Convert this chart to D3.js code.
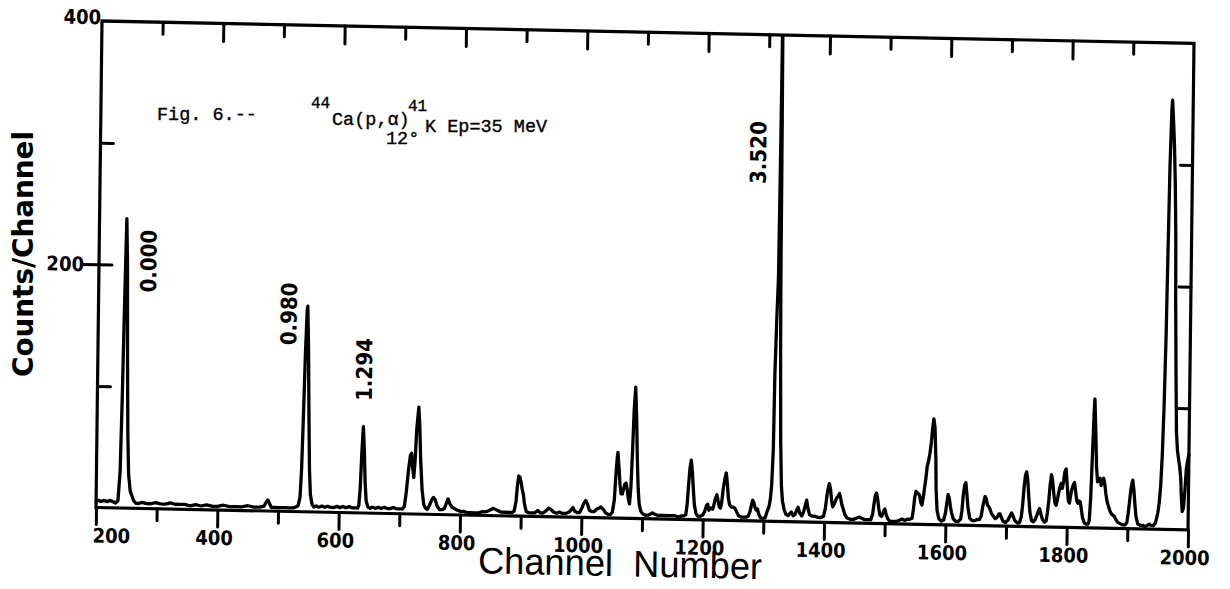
<!DOCTYPE html>
<html>
<head>
<meta charset="utf-8">
<script src="https://cdn.jsdelivr.net/npm/d3@7"></script>
<style>
  html, body { margin: 0; padding: 0; background: #fff; }
  svg { display: block; }
</style>
</head>
<body>
<svg id="chart" width="1230" height="589"></svg>
<script>
// 44Ca(p,alpha)41K spectrum, Ep = 35 MeV, 12 deg: counts per channel along the trace
const channel = [
  200,204,208,213,218,223,228,232,236,239,241,243,245,247,249,251,253,256,259,262,266,270,
  276,283,290,298,306,314,322,330,338,346,355,364,373,382,391,400,410,420,430,440,450,460,470,477,480,483,486,489,495,502,510,518,525,530,
  533,536,538,540,542,544,545,547,549,551,553,556,559,
  563,567,572,577,582,587,592,597,602,607,612,617,622,627,631,
  633,635,637,639,641,643,645,648,652,656,660,665,670,675,680,685,690,695,700,705,
  708,711,714,717,719,721,723,725,727,730,732,734,737,740,743,
  746,750,753,756,759,762,766,770,774,777,780,783,787,791,795,800,806,812,818,824,830,836,842,847,851,855,859,863,868,874,880,886,
  889,892,894,896,898,900,902,904,906,909,913,918,923,928,932,937,942,946,950,954,959,964,969,974,979,983,986,989,993,997,1001,1004,1007,1010,1013,1017,1021,1025,1029,1032,1036,1040,1044,1048,
  1051,1054,1056,1058,1059,1061,1063,1065,1067,1069,1071,1073,1075,1077,1079,1081,1083,1085,1087,1089,1091,1093,1095,1098,1101,
  1105,1110,1114,1117,1120,1125,1130,1136,1142,1148,1154,1160,1165,1169,1172,1174,1176,1178,1180,1182,1184,1186,1189,1192,
  1196,1200,1203,1206,1208,1210,1213,1216,1218,1220,1223,1225,1227,1229,1231,1233,1236,1238,1240,1242,1244,1247,1250,1253,1256,1259,1263,1268,1272,1275,1278,1280,1282,1284,1286,1288,1290,1292,1295,1299,1303,1306,1309,
  1311,1313,1315,1316,1318,1320,1321,1322,1323,1324,1325,1327,1329,1331,1334,1337,
  1341,1344,1346,1349,1352,1355,1357,1360,1363,1366,1369,1371,1373,1376,1380,1385,1390,1395,
  1399,1402,1405,1408,1410,1412,1414,1417,1420,1423,1425,1427,1429,1431,1434,1438,1443,1448,1453,1458,1462,1467,1472,
  1477,1480,1482,1484,1486,1488,1490,1492,1495,1497,1500,1502,1505,1509,1514,1519,1524,1529,1533,1537,1541,
  1545,1547,1549,1551,1553,1555,1557,1559,1561,1563,1565,1567,1569,1571,1573,1575,1577,1579,1581,1583,1584,1586,1589,1593,
  1597,1600,1602,1604,1606,1608,1610,1613,1617,1621,1625,1627,1629,1631,1633,1635,1637,1640,1644,1648,1652,1656,
  1659,1661,1663,1665,1667,1669,1671,1673,1676,1679,1682,1685,1688,1690,1692,1695,1699,1703,1706,1709,1711,1714,1718,
  1722,1725,1727,1729,1731,1733,1735,1737,1739,1742,1745,1748,1751,1753,1755,1757,1760,1763,
  1766,1768,1770,1772,1774,1776,1778,1780,1782,1784,1786,1788,1790,1792,1794,1796,1798,1800,1802,1804,1806,1808,1810,1812,1814,1816,1818,1820,1822,1824,1826,1829,1832,1835,
  1837,1839,1841,1843,1844,1846,1848,1850,1852,1854,1856,1858,1860,1862,1864,1866,1869,1872,1875,1878,1881,1884,1888,1892,1896,
  1899,1901,1903,1905,1907,1908,1910,1912,1914,1917,1921,1925,1929,1933,1936,1939,1943,1946,
  1948,1950,1952,1954,1956,1958,1960,1961,1963,1965,1966,1968,1970,1972,1974,1975,1977,1979,1981,1983,1985,1987,1988,1990,1992,1994,1996,1998,2000
];
const counts = [
  5,6,5,6,5,6,5,4,6,30,90,170,238,200,120,60,28,14,10,6,4,4,
  5,4,4,5,4,4,5,4,4,4,3,4,3,4,3,3,4,3,3,3,4,3,3,4,7,9,6,3,3,3,3,3,3,4,
  5,12,35,80,130,165,169,135,80,35,14,6,4,
  5,4,5,4,5,4,4,5,4,5,4,5,4,4,4,
  6,20,50,71,52,25,10,5,4,5,4,5,4,5,4,4,5,4,4,4,
  6,18,35,48,50,38,30,45,70,88,72,45,20,8,5,
  4,8,12,14,12,7,4,4,5,9,13,9,6,5,4,3,3,2,2,2,2,3,3,4,5,6,5,4,3,3,3,3,
  4,12,25,33,32,28,22,18,10,4,3,3,3,5,3,3,5,7,6,4,3,4,3,3,4,6,8,5,4,4,8,12,14,11,6,5,5,7,8,9,7,4,3,3,
  5,15,35,50,54,42,28,20,20,24,28,29,24,16,12,25,55,90,108,85,50,25,12,6,4,
  3,3,4,5,4,3,3,3,3,3,3,2,3,3,4,12,28,42,49,40,25,12,5,3,
  3,4,7,12,13,8,10,9,12,17,21,16,11,10,15,25,35,39,30,18,13,11,11,10,7,4,3,3,3,4,8,13,17,15,11,9,10,6,3,2,3,8,12,
  18,30,60,120,165,200,300,430,330,200,140,65,30,17,10,6,
  5,7,8,5,6,10,12,7,5,8,14,18,12,6,5,5,4,4,
  5,12,25,32,28,18,13,16,20,22,24,20,15,12,7,4,3,3,4,5,4,3,3,
  3,8,16,23,25,20,12,7,6,9,12,8,4,2,2,2,3,4,3,4,4,
  5,12,22,27,26,25,24,18,16,22,30,38,48,52,58,66,78,87,80,55,30,12,5,3,
  4,10,18,25,22,15,10,5,3,3,5,12,25,33,35,25,14,6,4,4,5,5,
  8,15,20,24,22,17,16,14,10,8,6,7,10,10,7,4,3,5,8,11,9,5,3,
  3,8,18,32,42,45,38,24,12,5,4,6,10,13,15,11,6,4,
  5,12,22,35,43,38,28,20,18,22,28,33,36,32,38,46,48,35,22,20,27,32,35,37,30,22,20,22,21,14,8,4,3,3,
  6,25,60,95,106,80,50,38,40,41,35,38,41,36,28,22,17,13,11,10,7,5,4,3,3,
  5,12,22,32,38,40,32,20,10,4,3,3,2,3,4,3,3,5,
  9,14,22,35,60,100,160,210,300,345,353,335,315,285,240,190,130,80,65,58,52,42,30,15,18,32,50,57,62
];

// axis ticks and labels
const xTicks = d3.range(200, 2001, 100);
const xTickLabels = [200, 400, 600, 800, 1000, 1200, 1400, 1600, 1800, 2000];
const topTicks = d3.range(300, 1901, 100);
const yTicks = [100, 200, 300];
const yTickLabels = [200, 400];

// level labels (MeV) over their peaks
const peakLabels = ["0.000", "0.980", "1.294", "3.520"];
const peakChannels = [246, 545, 639, 1322];

const titleParts = ["Fig. 6.--", "44", "Ca(p,\u03b1)", "41", "K Ep=35 MeV", "12\u00b0"];
const xTitle = "Channel  Number";
const yTitle = "Counts/Channel";

// ---------------------------------------------------------------
const W = 1092, H = 486.5;
const x = d3.scaleLinear().domain([200, 2000]).range([0, W]);
const y = d3.scaleLinear().domain([0, 400]).range([H, 0]);

const svg = d3.select("#chart");
svg.append("rect").attr("width", 1230).attr("height", 589).attr("fill", "#fff");

const ink = "#000";
const lettering = "'DejaVu Sans Condensed', 'DejaVu Sans', sans-serif";

// the plotted sheet sits slightly tilted on the page
const g = svg.append("g")
  .attr("transform", "matrix(1,0.0205,-0.0123,1,102,21)")
  .style("color", ink);

g.append("defs").append("clipPath").attr("id", "plotClip")
  .append("rect").attr("x", -3).attr("y", 0).attr("width", W + 6).attr("height", H + 6);

// spectrum trace
const idx = d3.range(channel.length);
g.append("path")
  .datum(idx)
  .attr("clip-path", "url(#plotClip)")
  .attr("fill", "none")
  .attr("stroke", ink)
  .attr("stroke-width", 3.3)
  .attr("stroke-linejoin", "round")
  .attr("stroke-linecap", "round")
  .attr("d", d3.line().x(i => x(channel[i])).y(i => y(counts[i])));

// frame
g.append("rect")
  .attr("x", 0).attr("y", 0).attr("width", W).attr("height", H)
  .attr("fill", "none").attr("stroke", ink).attr("stroke-width", 3.2);

function styleTicks(sel) {
  sel.select(".domain").remove();
  sel.selectAll("line").attr("stroke-width", 3).attr("stroke-linecap", "round");
}

// bottom ticks (outward), long on even hundreds
g.append("g").attr("transform", `translate(0,${H})`)
  .call(d3.axisBottom(x).tickValues(xTicks.filter(v => v % 200 === 0)).tickSize(17).tickFormat(""))
  .call(styleTicks);
g.append("g").attr("transform", `translate(0,${H})`)
  .call(d3.axisBottom(x).tickValues(xTicks.filter(v => v % 200 !== 0)).tickSize(12).tickFormat(""))
  .call(styleTicks);

// top ticks (inward)
g.append("g")
  .call(d3.axisTop(x).tickValues(topTicks.filter(v => v % 200 === 0)).tickSize(-18).tickFormat(""))
  .call(styleTicks);
g.append("g")
  .call(d3.axisTop(x).tickValues(topTicks.filter(v => v % 200 !== 0)).tickSize(-12).tickFormat(""))
  .call(styleTicks);

// left ticks: inward, plus an outward stub at 200
g.append("g")
  .call(d3.axisLeft(y).tickValues(yTicks).tickSize(-13).tickFormat(""))
  .call(styleTicks);
g.append("g")
  .call(d3.axisLeft(y).tickValues([200]).tickSize(15).tickFormat(""))
  .call(styleTicks);

// right ticks (inward)
g.append("g").attr("transform", `translate(${W},0)`)
  .call(d3.axisRight(y).tickValues(yTicks).tickSize(-12).tickFormat(""))
  .call(styleTicks);

// x tick labels
g.append("g").selectAll("text")
  .data(xTickLabels)
  .join("text")
  .attr("x", d => x(d) - 3)
  .attr("y", H + 35)
  .attr("text-anchor", d => d === 200 ? "start" : "middle")
  .attr("font-family", lettering)
  .attr("font-stretch", "condensed")
  .attr("font-weight", "bold")
  .attr("font-size", 20)
  .attr("fill", ink)
  .text(d => d);

// y tick labels
g.append("g").selectAll("text")
  .data(yTickLabels)
  .join("text")
  .attr("x", d => d === 400 ? -1 : -15)
  .attr("y", d => d === 400 ? y(d) - 4 : y(d))
  .attr("dy", "0.36em")
  .attr("text-anchor", "end")
  .attr("font-family", lettering)
  .attr("font-stretch", "condensed")
  .attr("font-weight", "bold")
  .attr("font-size", 20)
  .attr("fill", ink)
  .text(d => d);

// peak level labels, reading upward
const labelOffsets = [[21.5, 239], [-19, 289], [0, 343], [-23, 118]];
g.append("g").selectAll("text")
  .data(peakLabels)
  .join("text")
  .attr("transform", (d, i) => `translate(${x(peakChannels[i]) + labelOffsets[i][0]},${labelOffsets[i][1]}) rotate(-90)`)
  .attr("text-anchor", "middle")
  .attr("dy", "0.36em")
  .attr("font-family", lettering)
  .attr("font-stretch", "condensed")
  .attr("font-weight", "bold")
  .attr("font-size", 22)
  .attr("fill", ink)
  .text(d => d);

// x axis title
g.append("text")
  .attr("x", 524.6)
  .attr("y", H + 58)
  .attr("text-anchor", "middle")
  .attr("font-family", "'Liberation Sans', Arial, sans-serif")
  .attr("font-size", 37)
  .attr("textLength", 284)
  .attr("lengthAdjust", "spacingAndGlyphs")
  .attr("fill", ink)
  .style("white-space", "pre")
  .text(xTitle);

// y axis title
svg.append("text")
  .attr("transform", "translate(33,254) rotate(-90)")
  .attr("text-anchor", "middle")
  .attr("font-family", lettering)
  .attr("font-weight", "bold")
  .attr("font-size", 29)
  .attr("textLength", 246)
  .attr("lengthAdjust", "spacingAndGlyphs")
  .attr("fill", ink)
  .text(yTitle);

// typed caption
const titlePos = [
  [157, 120],
  [311, 108],
  [332, 124.5],
  [408, 111],
  [425, 132],
  [386, 143.5]
];
svg.append("g").selectAll("text")
  .data(titleParts)
  .join("text")
  .attr("x", (d, i) => titlePos[i][0])
  .attr("y", (d, i) => titlePos[i][1])
  .attr("font-family", "'Liberation Mono', 'DejaVu Sans Mono', monospace")
  .attr("font-size", (d, i) => (i === 1 || i === 3) ? 16 : 18.5)
  .attr("fill", ink)
  .attr("stroke", ink)
  .attr("stroke-width", 0.35)
  .style("white-space", "pre")
  .text(d => d);
</script>
</body>
</html>
